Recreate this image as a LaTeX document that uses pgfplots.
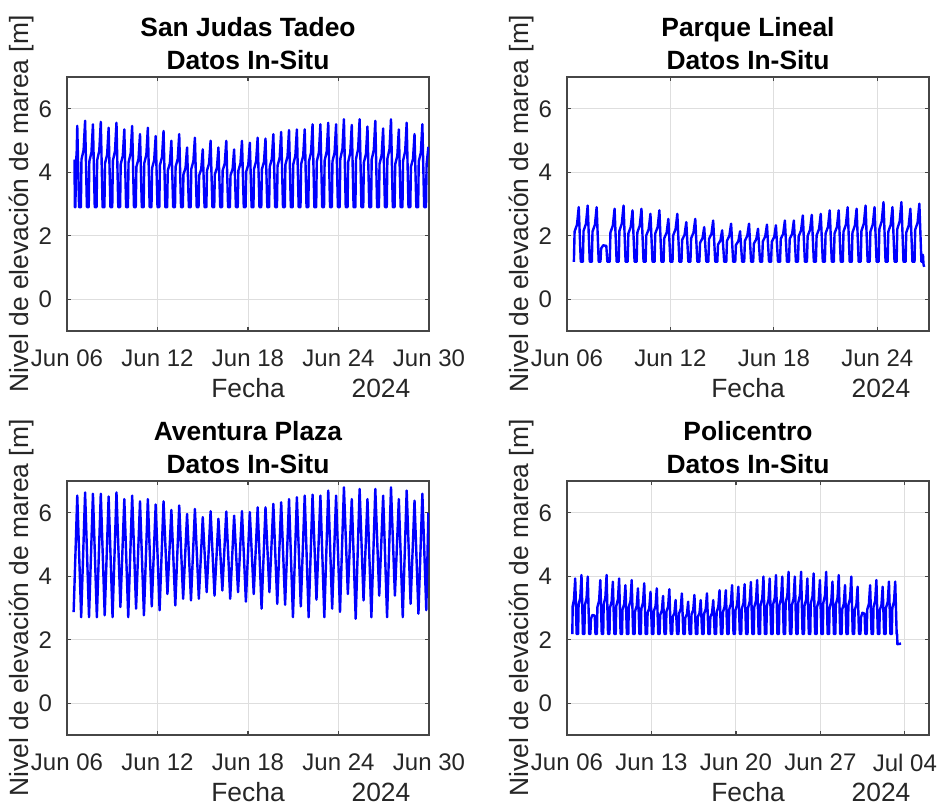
\documentclass[border=0pt]{standalone}
\usepackage{fontspec}
\setmainfont{Liberation Sans}
\usepackage{pgfplots}
\pgfplotsset{compat=1.18}
\definecolor{txt}{RGB}{38,38,38}
\definecolor{gridc}{RGB}{222,222,222}
\definecolor{boxc}{RGB}{70,70,70}
\pgfplotsset{
  tidestyle/.style={
    scale only axis, width=181pt, height=127pt,
    anchor=south west,
    ymin=-1, ymax=7, ytick={0,2,4,6},
    xmajorgrids, ymajorgrids,
    major grid style={gridc, line width=0.5pt},
    axis line style={boxc, line width=0.6pt},
    tick style={boxc, line width=0.6pt}, major tick length=2pt, tick align=inside,
    tick label style={font=\fontsize{12}{14}\selectfont, text=txt},
    /pgf/number format/assume math mode=true,
    xticklabel style={yshift=-6pt},
    yticklabel style={xshift=-4pt},
    title style={font=\fontsize{13.2}{16.5}\selectfont\bfseries, align=center, at={(0.5,1)}, anchor=south, inner sep=0pt, yshift=-2.5pt},
    xlabel={Fecha},
    xlabel style={font=\fontsize{13.2}{15}\selectfont, text=txt, at={(axis description cs:0.5,0)}, anchor=center, yshift=-28.5pt},
    ylabel={Nivel de elevación de marea [m]},
    ylabel style={font=\fontsize{13.2}{15}\selectfont, text=txt, at={(axis description cs:-0.1243,0.5)}, anchor=center},
  },
  tide/.style={blue, line width=1.2pt, line join=round, mark=none},
}
\begin{document}
\begin{tikzpicture}
\path[use as bounding box] (0,0) rectangle (468.5pt,403.5pt);

% ---------------- San Judas Tadeo ----------------
\begin{axis}[tidestyle, name=a1, at={(33.5pt,238pt)},
  xmin=0, xmax=24, xtick={0,6,12,18,24},
  xticklabels={Jun 06,Jun 12,Jun 18,Jun 24,Jun 30},
  title={San Judas Tadeo\\Datos In-Situ}]
\addplot[tide] coordinates {
(0.50,4.40)(0.52,2.90)(0.56,2.90)(0.59,4.31)(0.64,4.59)(0.68,5.46)
(0.80,2.9)(0.92,2.9)(0.96,4.40)(1.10,4.70)(1.20,5.62)
(1.32,2.9)(1.44,2.9)(1.48,4.34)(1.62,4.62)(1.72,5.51)
(1.84,2.9)(1.96,2.9)(2.00,4.38)(2.14,4.68)(2.24,5.59)
(2.36,2.9)(2.48,2.9)(2.52,4.28)(2.66,4.55)(2.76,5.40)
(2.88,2.9)(3.00,2.9)(3.04,4.36)(3.18,4.66)(3.28,5.56)
(3.40,2.9)(3.52,2.9)(3.56,4.25)(3.70,4.52)(3.80,5.35)
(3.92,2.9)(4.04,2.9)(4.08,4.31)(4.22,4.59)(4.32,5.46)
(4.44,2.9)(4.56,2.9)(4.60,4.17)(4.74,4.42)(4.84,5.20)
(4.96,2.9)(5.08,2.9)(5.12,4.28)(5.26,4.55)(5.36,5.40)
(5.48,2.9)(5.60,2.9)(5.64,4.13)(5.78,4.38)(5.88,5.14)
(6.00,2.9)(6.12,2.9)(6.16,4.22)(6.30,4.48)(6.40,5.30)
(6.52,2.9)(6.64,2.9)(6.68,4.05)(6.82,4.28)(6.92,4.99)
(7.04,2.9)(7.16,2.9)(7.20,4.17)(7.34,4.42)(7.44,5.20)
(7.56,2.9)(7.68,2.9)(7.72,3.93)(7.86,4.14)(7.96,4.78)
(8.08,2.9)(8.20,2.9)(8.24,4.10)(8.38,4.35)(8.48,5.09)
(8.60,2.9)(8.72,2.9)(8.76,3.90)(8.90,4.10)(9.00,4.72)
(9.12,2.9)(9.24,2.9)(9.28,4.05)(9.42,4.28)(9.52,4.99)
(9.64,2.9)(9.76,2.9)(9.80,3.93)(9.94,4.14)(10.04,4.78)
(10.16,2.9)(10.28,2.9)(10.32,4.05)(10.46,4.28)(10.56,4.99)
(10.68,2.9)(10.80,2.9)(10.84,3.90)(10.98,4.10)(11.08,4.72)
(11.20,2.9)(11.32,2.9)(11.36,4.05)(11.50,4.28)(11.60,4.99)
(11.72,2.9)(11.84,2.9)(11.88,4.02)(12.02,4.24)(12.12,4.93)
(12.24,2.9)(12.36,2.9)(12.40,4.10)(12.54,4.35)(12.64,5.09)
(12.76,2.9)(12.88,2.9)(12.92,4.09)(13.06,4.33)(13.16,5.06)
(13.28,2.9)(13.40,2.9)(13.44,4.17)(13.58,4.42)(13.68,5.20)
(13.80,2.9)(13.92,2.9)(13.96,4.20)(14.10,4.46)(14.20,5.27)
(14.32,2.9)(14.44,2.9)(14.48,4.24)(14.62,4.50)(14.72,5.33)
(14.84,2.9)(14.96,2.9)(15.00,4.25)(15.14,4.52)(15.24,5.35)
(15.36,2.9)(15.48,2.9)(15.52,4.25)(15.66,4.52)(15.76,5.35)
(15.88,2.9)(16.00,2.9)(16.04,4.34)(16.18,4.62)(16.28,5.51)
(16.40,2.9)(16.52,2.9)(16.56,4.34)(16.70,4.62)(16.80,5.51)
(16.92,2.9)(17.04,2.9)(17.08,4.36)(17.22,4.66)(17.32,5.56)
(17.44,2.9)(17.56,2.9)(17.60,4.34)(17.74,4.62)(17.84,5.51)
(17.96,2.9)(18.08,2.9)(18.12,4.42)(18.26,4.73)(18.36,5.67)
(18.48,2.9)(18.60,2.9)(18.64,4.32)(18.78,4.61)(18.88,5.49)
(19.00,2.9)(19.12,2.9)(19.16,4.42)(19.30,4.73)(19.40,5.67)
(19.52,2.9)(19.64,2.9)(19.68,4.30)(19.82,4.58)(19.92,5.44)
(20.04,2.9)(20.16,2.9)(20.20,4.40)(20.34,4.70)(20.44,5.62)
(20.56,2.9)(20.68,2.9)(20.72,4.26)(20.86,4.54)(20.96,5.38)
(21.08,2.9)(21.20,2.9)(21.24,4.42)(21.38,4.73)(21.48,5.67)
(21.60,2.9)(21.72,2.9)(21.76,4.25)(21.90,4.52)(22.00,5.35)
(22.12,2.9)(22.24,2.9)(22.28,4.36)(22.42,4.66)(22.52,5.56)
(22.64,2.9)(22.76,2.9)(22.80,4.17)(22.94,4.42)(23.04,5.20)
(23.16,2.9)(23.28,2.9)(23.32,4.34)(23.46,4.62)(23.56,5.51)
(23.68,2.9)(23.80,2.9)(23.84,4.25)(23.96,4.80)
};
\end{axis}
\node[font=\fontsize{13.2}{15}\selectfont, text=txt, anchor=center] at ([xshift=-24pt,yshift=-28.5pt]a1.south east) {2024};

% ---------------- Parque Lineal ----------------
\begin{axis}[tidestyle, name=a2, at={(283.5pt,238pt)},
  xmin=0, xmax=21, xtick={0,6,12,18},
  xticklabels={Jun 06,Jun 12,Jun 18,Jun 24},
  title={Parque Lineal\\Datos In-Situ}]
\addplot[tide] coordinates {
(0.40,1.18)(0.44,2.13)(0.58,2.35)(0.68,2.90)
(0.80,1.18)(0.92,1.18)(0.96,2.15)(1.10,2.38)(1.20,2.95)
(1.32,1.18)(1.44,1.18)(1.48,2.13)(1.62,2.35)(1.72,2.90)
(1.84,1.18)(1.94,1.18)(1.98,1.60)(2.10,1.70)(2.28,1.68)(2.34,1.18)
(2.48,1.18)(2.52,2.10)(2.66,2.32)(2.76,2.85)
(2.88,1.18)(3.00,1.18)(3.04,2.15)(3.18,2.38)(3.28,2.95)
(3.40,1.18)(3.52,1.18)(3.56,2.07)(3.70,2.28)(3.80,2.80)
(3.92,1.18)(4.04,1.18)(4.08,2.10)(4.22,2.32)(4.32,2.85)
(4.44,1.18)(4.56,1.18)(4.60,2.01)(4.74,2.21)(4.84,2.69)
(4.96,1.18)(5.08,1.18)(5.12,2.07)(5.26,2.28)(5.36,2.80)
(5.48,1.18)(5.60,1.18)(5.64,1.92)(5.78,2.10)(5.88,2.53)
(6.00,1.18)(6.12,1.18)(6.16,2.01)(6.30,2.21)(6.40,2.69)
(6.52,1.18)(6.64,1.18)(6.68,1.87)(6.82,2.03)(6.92,2.43)
(7.04,1.18)(7.16,1.18)(7.20,1.92)(7.34,2.10)(7.44,2.53)
(7.56,1.18)(7.68,1.18)(7.72,1.78)(7.86,1.92)(7.96,2.27)
(8.08,1.18)(8.20,1.18)(8.24,1.90)(8.38,2.06)(8.48,2.48)
(8.60,1.18)(8.72,1.18)(8.76,1.72)(8.90,1.85)(9.00,2.17)
(9.12,1.18)(9.24,1.18)(9.28,1.84)(9.42,2.00)(9.52,2.38)
(9.64,1.18)(9.76,1.18)(9.80,1.71)(9.94,1.83)(10.04,2.14)
(10.16,1.18)(10.28,1.18)(10.32,1.84)(10.46,2.00)(10.56,2.38)
(10.68,1.18)(10.80,1.18)(10.84,1.75)(10.98,1.89)(11.08,2.22)
(11.20,1.18)(11.32,1.18)(11.36,1.82)(11.50,1.98)(11.60,2.35)
(11.72,1.18)(11.84,1.18)(11.88,1.81)(12.02,1.96)(12.12,2.33)
(12.24,1.18)(12.36,1.18)(12.40,1.90)(12.54,2.06)(12.64,2.48)
(12.76,1.18)(12.88,1.18)(12.92,1.90)(13.06,2.06)(13.16,2.48)
(13.28,1.18)(13.40,1.18)(13.44,1.98)(13.58,2.17)(13.68,2.64)
(13.80,1.18)(13.92,1.18)(13.96,1.99)(14.10,2.19)(14.20,2.66)
(14.32,1.18)(14.44,1.18)(14.48,2.01)(14.62,2.21)(14.72,2.69)
(14.84,1.18)(14.96,1.18)(15.00,2.07)(15.14,2.28)(15.24,2.80)
(15.36,1.18)(15.48,1.18)(15.52,2.07)(15.66,2.28)(15.76,2.80)
(15.88,1.18)(16.00,1.18)(16.04,2.13)(16.18,2.35)(16.28,2.90)
(16.40,1.18)(16.52,1.18)(16.56,2.10)(16.70,2.32)(16.80,2.85)
(16.92,1.18)(17.04,1.18)(17.08,2.15)(17.22,2.38)(17.32,2.95)
(17.44,1.18)(17.56,1.18)(17.60,2.13)(17.74,2.35)(17.84,2.90)
(17.96,1.18)(18.08,1.18)(18.12,2.21)(18.26,2.46)(18.36,3.06)
(18.48,1.18)(18.60,1.18)(18.64,2.13)(18.78,2.35)(18.88,2.90)
(19.00,1.18)(19.12,1.18)(19.16,2.21)(19.30,2.46)(19.40,3.06)
(19.52,1.18)(19.64,1.18)(19.68,2.10)(19.82,2.32)(19.92,2.85)
(20.04,1.18)(20.16,1.18)(20.20,2.19)(20.34,2.42)(20.44,3.01)
(20.56,1.18)(20.63,1.18)(20.65,1.40)(20.68,1.10)(20.72,1.02)
};
\end{axis}
\node[font=\fontsize{13.2}{15}\selectfont, text=txt, anchor=center] at ([xshift=-24pt,yshift=-28.5pt]a2.south east) {2024};

% ---------------- Aventura Plaza ----------------
\begin{axis}[tidestyle, name=a3, at={(33.5pt,36pt)},
  xmin=0, xmax=24, xtick={0,6,12,18,24},
  xticklabels={Jun 06,Jun 12,Jun 18,Jun 24,Jun 30},
  title={Aventura Plaza\\Datos In-Situ}]
\addplot[tide] coordinates {
(0.44,2.87)(0.68,6.54)(0.94,2.71)(1.20,6.64)(1.46,2.71)(1.72,6.60)(1.98,2.71)(2.24,6.60)
(2.50,2.77)(2.76,6.51)(3.02,2.71)(3.28,6.64)(3.54,3.03)(3.80,6.43)(4.06,2.71)(4.32,6.54)
(4.58,2.98)(4.84,6.36)(5.10,2.77)(5.36,6.43)(5.62,3.05)(5.88,6.26)(6.14,2.93)(6.40,6.36)
(6.66,3.44)(6.92,6.09)(7.18,3.08)(7.44,6.23)(7.70,3.29)(7.96,5.96)(8.22,3.24)(8.48,6.12)
(8.74,3.29)(9.00,5.86)(9.26,3.50)(9.52,6.05)(9.78,3.39)(10.04,5.81)(10.30,3.55)(10.56,6.04)
(10.82,3.29)(11.08,5.91)(11.34,3.50)(11.60,6.05)(11.86,3.20)(12.12,6.02)(12.38,3.44)(12.64,6.17)
(12.90,2.98)(13.16,6.17)(13.42,3.50)(13.68,6.28)(13.94,3.13)(14.20,6.33)(14.46,3.10)(14.72,6.43)
(14.98,2.71)(15.24,6.49)(15.50,3.05)(15.76,6.54)(16.02,2.71)(16.28,6.57)(16.54,3.26)(16.80,6.54)
(17.06,2.71)(17.32,6.70)(17.58,2.98)(17.84,6.54)(18.10,2.88)(18.36,6.80)(18.62,3.44)(18.88,6.43)
(19.14,2.66)(19.40,6.75)(19.66,3.24)(19.92,6.43)(20.18,2.71)(20.44,6.75)(20.70,3.39)(20.96,6.54)
(21.22,2.71)(21.48,6.80)(21.74,3.39)(22.00,6.43)(22.26,2.71)(22.52,6.70)(22.78,3.13)(23.04,6.38)
(23.30,2.82)(23.56,6.60)(23.82,2.93)(23.96,6.00)
};
\end{axis}
\node[font=\fontsize{13.2}{15}\selectfont, text=txt, anchor=center] at ([xshift=-24pt,yshift=-28.5pt]a3.south east) {2024};

% ---------------- Policentro ----------------
\begin{axis}[tidestyle, name=a4, at={(283.5pt,36pt)},
  xmin=0, xmax=30, xtick={0,7,14,21,28},
  xticklabels={Jun 06,Jun 13,Jun 20,Jun 27,Jul 04},
  title={Policentro\\Datos In-Situ}]
\addplot[tide] coordinates {
(0.44,2.18)(0.47,3.06)(0.58,3.27)(0.68,3.93)
(0.80,2.18)(0.92,2.18)(0.96,3.11)(1.10,3.33)(1.20,4.04)
(1.32,2.18)(1.44,2.18)(1.48,3.09)(1.62,3.30)(1.72,3.99)
(1.84,2.18)(1.94,2.18)(1.98,2.65)(2.10,2.78)(2.30,2.76)(2.36,2.18)
(2.48,2.18)(2.52,3.03)(2.66,3.23)(2.76,3.88)
(2.88,2.18)(3.00,2.18)(3.04,3.11)(3.18,3.33)(3.28,4.04)
(3.40,2.18)(3.52,2.18)(3.56,3.01)(3.70,3.20)(3.80,3.83)
(3.92,2.18)(4.04,2.18)(4.08,3.06)(4.22,3.27)(4.32,3.93)
(4.44,2.18)(4.56,2.18)(4.60,2.95)(4.74,3.13)(4.84,3.72)
(4.96,2.18)(5.08,2.18)(5.12,3.03)(5.26,3.23)(5.36,3.88)
(5.48,2.18)(5.60,2.18)(5.64,2.90)(5.78,3.07)(5.88,3.62)
(6.00,2.18)(6.12,2.18)(6.16,2.98)(6.30,3.17)(6.40,3.78)
(6.52,2.18)(6.64,2.18)(6.68,2.85)(6.82,3.00)(6.92,3.51)
(7.04,2.18)(7.16,2.18)(7.20,2.90)(7.34,3.07)(7.44,3.62)
(7.56,2.18)(7.68,2.18)(7.72,2.78)(7.86,2.92)(7.96,3.38)
(8.08,2.18)(8.20,2.18)(8.24,2.89)(8.38,3.05)(8.48,3.59)
(8.60,2.18)(8.72,2.18)(8.76,2.72)(8.90,2.84)(9.00,3.25)
(9.12,2.18)(9.24,2.18)(9.28,2.82)(9.42,2.97)(9.52,3.46)
(9.64,2.18)(9.76,2.18)(9.80,2.69)(9.94,2.81)(10.04,3.20)
(10.16,2.18)(10.28,2.18)(10.32,2.80)(10.46,2.94)(10.56,3.41)
(10.68,2.18)(10.80,2.18)(10.84,2.72)(10.98,2.84)(11.08,3.25)
(11.20,2.18)(11.32,2.18)(11.36,2.82)(11.50,2.97)(11.60,3.46)
(11.72,2.18)(11.84,2.18)(11.88,2.72)(12.02,2.84)(12.12,3.25)
(12.24,2.18)(12.36,2.18)(12.40,2.87)(12.54,3.04)(12.64,3.56)
(12.76,2.18)(12.88,2.18)(12.92,2.87)(13.06,3.04)(13.16,3.56)
(13.28,2.18)(13.40,2.18)(13.44,2.95)(13.58,3.13)(13.68,3.72)
(13.80,2.18)(13.92,2.18)(13.96,2.93)(14.10,3.10)(14.20,3.67)
(14.32,2.18)(14.44,2.18)(14.48,2.97)(14.62,3.15)(14.72,3.75)
(14.84,2.18)(14.96,2.18)(15.00,3.00)(15.14,3.20)(15.24,3.82)
(15.36,2.18)(15.48,2.18)(15.52,3.03)(15.66,3.23)(15.76,3.88)
(15.88,2.18)(16.00,2.18)(16.04,3.09)(16.18,3.30)(16.28,3.99)
(16.40,2.18)(16.52,2.18)(16.56,3.06)(16.70,3.27)(16.80,3.93)
(16.92,2.18)(17.04,2.18)(17.08,3.11)(17.22,3.33)(17.32,4.04)
(17.44,2.18)(17.56,2.18)(17.60,3.09)(17.74,3.30)(17.84,3.99)
(17.96,2.18)(18.08,2.18)(18.12,3.16)(18.26,3.40)(18.36,4.14)
(18.48,2.18)(18.60,2.18)(18.64,3.09)(18.78,3.30)(18.88,3.99)
(19.00,2.18)(19.12,2.18)(19.16,3.16)(19.30,3.40)(19.40,4.14)
(19.52,2.18)(19.64,2.18)(19.68,3.06)(19.82,3.27)(19.92,3.93)
(20.04,2.18)(20.16,2.18)(20.20,3.14)(20.34,3.36)(20.44,4.09)
(20.56,2.18)(20.68,2.18)(20.72,3.03)(20.86,3.23)(20.96,3.88)
(21.08,2.18)(21.20,2.18)(21.24,3.16)(21.38,3.40)(21.48,4.14)
(21.60,2.18)(21.72,2.18)(21.76,3.01)(21.90,3.20)(22.00,3.83)
(22.12,2.18)(22.24,2.18)(22.28,3.11)(22.42,3.33)(22.52,4.04)
(22.64,2.18)(22.76,2.18)(22.80,2.95)(22.94,3.13)(23.04,3.72)
(23.16,2.18)(23.28,2.18)(23.32,3.09)(23.46,3.30)(23.56,3.99)
(23.68,2.18)(23.80,2.18)(23.84,2.93)(23.98,3.10)(24.08,3.67)
(24.20,2.18)(24.32,2.18)(24.36,2.70)(24.48,2.85)(24.66,2.82)(24.72,2.18)
(24.84,2.18)(24.88,2.95)(25.02,3.13)(25.12,3.72)
(25.24,2.18)(25.36,2.18)(25.40,3.03)(25.54,3.23)(25.64,3.88)
(25.76,2.18)(25.88,2.18)(25.92,2.93)(26.06,3.10)(26.16,3.67)
(26.28,2.18)(26.40,2.18)(26.44,3.01)(26.58,3.20)(26.68,3.83)
(26.80,2.18)(26.92,2.18)(26.96,3.01)(27.10,3.20)(27.20,3.83)
(27.32,2.18)(27.36,2.18)(27.38,1.86)(27.68,1.88)
};
\end{axis}
\node[font=\fontsize{13.2}{15}\selectfont, text=txt, anchor=center] at ([xshift=-24pt,yshift=-28.5pt]a4.south east) {2024};
\end{tikzpicture}
\end{document}
